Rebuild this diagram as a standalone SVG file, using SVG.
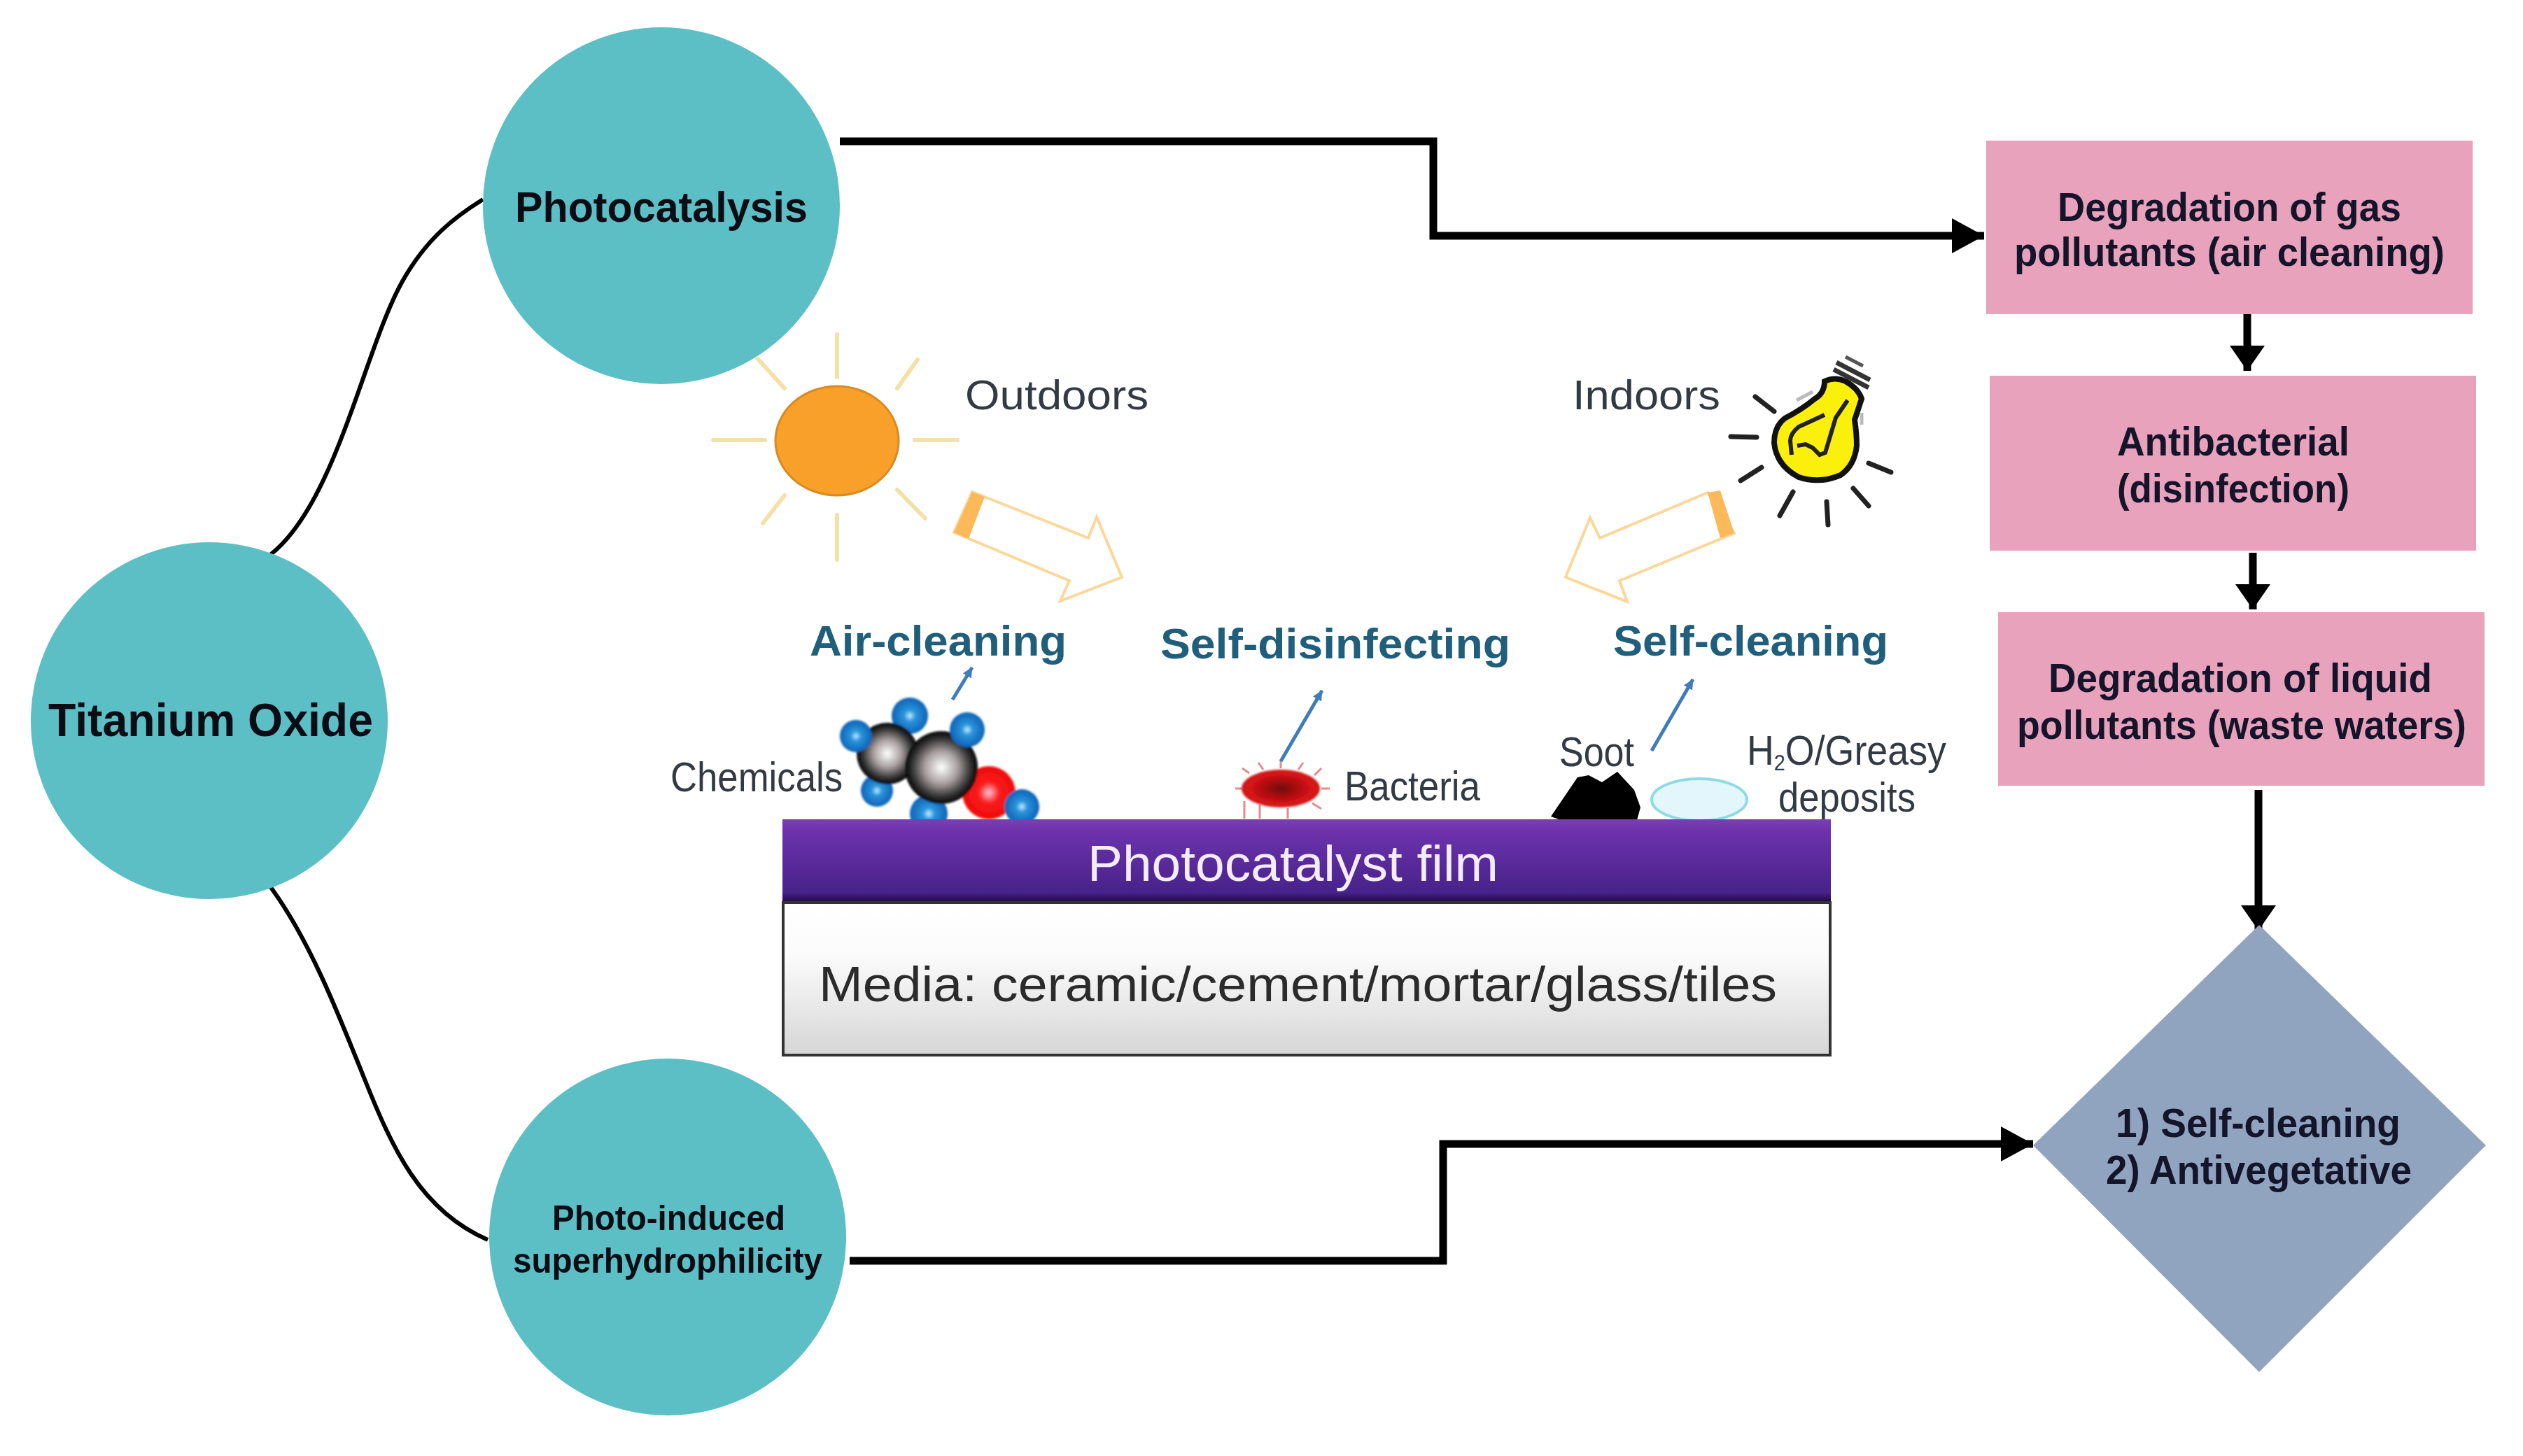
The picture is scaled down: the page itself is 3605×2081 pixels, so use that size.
<svg xmlns="http://www.w3.org/2000/svg" width="3605" height="2081" viewBox="0 0 3605 2081">
<style>
text{font-family:"Liberation Sans",Arial,sans-serif}
.b{font-weight:700;fill:#14142a;font-size:58px}
.c{font-weight:700;fill:#0c0c14}
.l{fill:#333a44;font-size:60px}
.t{font-weight:700;fill:#1f5f7c;font-size:62px}
.ray{stroke:#f4e1a8;stroke-width:6;fill:none;stroke-linecap:round}
.bray{stroke:#222;stroke-width:7;fill:none;stroke-linecap:round}
.conn{fill:none;stroke:#000;stroke-width:11}
.curve{fill:none;stroke:#000;stroke-width:6}
.node{fill:#5cbfc5}
.pink{fill:#e8a2bb}
.thin{stroke:#3f7cb8;stroke-width:5;fill:none}
.hollow{fill:#fff;stroke:#fbd79a;stroke-width:4;stroke-linejoin:miter}
.band{fill:#fbb95a}
</style>
<defs>
<marker id="ah" markerUnits="userSpaceOnUse" markerWidth="50" markerHeight="52" refX="46" refY="25" orient="auto"><path d="M0 0L46 25L0 50z" fill="#000"/></marker>
<marker id="av" markerUnits="userSpaceOnUse" markerWidth="40" markerHeight="52" refX="36" refY="25" orient="auto"><path d="M0 0L36 25L0 50z" fill="#000"/></marker>
<marker id="tip" markerUnits="userSpaceOnUse" markerWidth="18" markerHeight="18" refX="14" refY="7" orient="auto"><path d="M0 0L15 7L0 14z" fill="#3f7cb8"/></marker>
<linearGradient id="film" x1="0" y1="0" x2="0" y2="1"><stop offset="0" stop-color="#7a3fb4"/><stop offset=".15" stop-color="#6c32ac"/><stop offset=".88" stop-color="#47228a"/><stop offset="1" stop-color="#20083e"/></linearGradient>
<linearGradient id="media" x1="0" y1="0" x2="0" y2="1"><stop offset="0" stop-color="#fff"/><stop offset=".35" stop-color="#fbfbfb"/><stop offset="1" stop-color="#d6d6d6"/></linearGradient>
<radialGradient id="blue" cx=".5" cy=".5" r=".52"><stop offset="0" stop-color="#c4ecff"/><stop offset=".3" stop-color="#2b95dc"/><stop offset="1" stop-color="#0b5fb4"/></radialGradient>
<radialGradient id="grey" cx=".5" cy=".5" r=".5"><stop offset="0" stop-color="#fff"/><stop offset=".45" stop-color="#a89f9f"/><stop offset=".8" stop-color="#333"/><stop offset="1" stop-color="#060606"/></radialGradient>
<radialGradient id="red" cx=".5" cy=".5" r=".5"><stop offset="0" stop-color="#ffc4d4"/><stop offset=".4" stop-color="#fa1c1c"/><stop offset="1" stop-color="#ee0a0a"/></radialGradient>
<radialGradient id="bac" cx=".5" cy=".5" r=".5"><stop offset="0" stop-color="#6e0a10"/><stop offset=".4" stop-color="#a80c10"/><stop offset=".85" stop-color="#dc1414"/><stop offset="1" stop-color="#c81c18"/></radialGradient>
<filter id="soft" x="-10%" y="-10%" width="120%" height="120%"><feGaussianBlur stdDeviation="1.5"/></filter>
</defs>

<g id="connectors">
<path class="curve" d="M386 793C480 720 520 500 575 402C610 340 650 310 690 285"/>
<path class="curve" d="M386 1267C440 1340 480 1440 520 1540C560 1640 600 1730 697 1772"/>
<path class="conn" d="M1200 202H2048V337H2835" marker-end="url(#ah)"/>
<path class="conn" d="M1214 1802H2062V1635H2905" marker-end="url(#ah)"/>
<path class="conn" d="M3227 1129V1330" marker-end="url(#av)"/>
<path class="conn" d="M3211 449V530" marker-end="url(#av)"/>
<path class="conn" d="M3219 790V871" marker-end="url(#av)"/>
</g>

<g id="titanium-oxide"><circle class="node" cx="299" cy="1030" r="255"/><text class="c" x="69" y="1052" font-size="66" textLength="464" lengthAdjust="spacingAndGlyphs">Titanium Oxide</text></g>
<g id="photocatalysis"><circle class="node" cx="945" cy="294" r="255"/><text class="c" x="736" y="317" font-size="62" textLength="418" lengthAdjust="spacingAndGlyphs">Photocatalysis</text></g>
<g id="superhydrophilicity"><circle class="node" cx="954" cy="1768" r="255"/><text class="c" x="789" y="1758" font-size="50" textLength="333" lengthAdjust="spacingAndGlyphs">Photo-induced</text><text class="c" x="733" y="1819" font-size="50" textLength="442" lengthAdjust="spacingAndGlyphs">superhydrophilicity</text></g>

<g id="gas-pollutants"><rect class="pink" x="2838" y="201" width="695" height="248"/><text class="b" x="2940" y="316" textLength="491" lengthAdjust="spacingAndGlyphs">Degradation of gas</text><text class="b" x="2878" y="380" textLength="615" lengthAdjust="spacingAndGlyphs">pollutants (air cleaning)</text></g>
<g id="antibacterial"><rect class="pink" x="2843" y="537" width="695" height="250"/><text class="b" x="3025" y="651" textLength="332" lengthAdjust="spacingAndGlyphs">Antibacterial</text><text class="b" x="3025" y="718" textLength="332" lengthAdjust="spacingAndGlyphs">(disinfection)</text></g>
<g id="liquid-pollutants"><rect class="pink" x="2855" y="875" width="695" height="248"/><text class="b" x="2927" y="989" textLength="548" lengthAdjust="spacingAndGlyphs">Degradation of liquid</text><text class="b" x="2882" y="1056" textLength="642" lengthAdjust="spacingAndGlyphs">pollutants (waste waters)</text></g>
<g id="outcome"><path fill="#90a4c0" d="M3228 1322L3552 1637L3228 1961L2905 1637z"/><text class="b" x="3023" y="1625" textLength="407" lengthAdjust="spacingAndGlyphs">1) Self-cleaning</text><text class="b" x="3009" y="1692" textLength="437" lengthAdjust="spacingAndGlyphs">2) Antivegetative</text></g>

<g id="sun">
<ellipse cx="1196" cy="630" rx="88" ry="78" fill="#f9a02a" stroke="#d98a20" stroke-width="3"/>
<path class="ray" d="M1196 478V539M1311 514L1282 555M1307 629H1368M1282 700L1322 741M1196 736V800M1121 708L1090 748M1019 629H1093M1082 512L1121 555"/>
<text class="l" x="1379" y="585" textLength="262" lengthAdjust="spacingAndGlyphs">Outdoors</text>
</g>
<g id="outdoor-arrow">
<path class="hollow" d="M1389 703L1555 769L1567 739L1603 825L1515 859L1528 830L1363 761z"/>
<path class="band" d="M1389 703L1407 710L1384 770L1363 761z"/>
</g>
<g id="bulb">
<path d="M2620 528L2670 554M2624 518L2672 543" stroke="#333" stroke-width="7" fill="none"/>
<path d="M2637 510L2662 523" stroke="#555" stroke-width="5" fill="none"/>
<path d="M2567 572L2590 560M2660 590V607" stroke="#bbb" stroke-width="5" fill="none"/>
<path d="M2607 545Q2622 538 2637 545Q2655 555 2660 570Q2655 585 2650 600Q2653 620 2653 637Q2650 665 2630 679Q2600 692 2570 682Q2538 665 2535 633Q2535 610 2550 598Q2575 585 2593 570Q2607 562 2607 545z" fill="#fbf00c" stroke="#111" stroke-width="8"/>
<path d="M2640 572L2623 597L2608 647L2600 650L2590 640L2580 635L2568 637M2607 593L2570 610Q2558 620 2558 630L2560 650" fill="none" stroke="#222" stroke-width="6"/>
<path class="bray" d="M2508 567L2535 588M2473 624L2510 625M2487 687L2517 668M2543 737L2562 703M2610 717L2612 750M2648 698L2670 723M2670 662L2702 675"/>
<text class="l" x="2247" y="585" textLength="211" lengthAdjust="spacingAndGlyphs">Indoors</text>
</g>
<g id="indoor-arrow">
<path class="hollow" d="M2440 704L2286 769L2272 740L2237 825L2325 860L2314 830L2478 762z"/>
<path class="band" d="M2440 704L2458 701L2478 762L2458 769z"/>
</g>

<g id="molecule">
<g filter="url(#soft)">
<circle cx="1300" cy="1023" r="26" fill="url(#blue)"/><circle cx="1253" cy="1130" r="23" fill="url(#blue)"/><circle cx="1327" cy="1163" r="27" fill="url(#blue)"/>
<circle cx="1413" cy="1133" r="38" fill="url(#red)"/>
<circle cx="1268" cy="1077" r="44" fill="url(#grey)"/><circle cx="1345" cy="1097" r="52" fill="url(#grey)"/>
<circle cx="1223" cy="1052" r="23" fill="url(#blue)"/><circle cx="1382" cy="1043" r="25" fill="url(#blue)"/><circle cx="1460" cy="1153" r="25" fill="url(#blue)"/>
</g>
<text class="l" x="958" y="1131" textLength="246" lengthAdjust="spacingAndGlyphs" font-size="56">Chemicals</text>
</g>
<g id="bacteria">
<path d="M1775 1127H1765M1785 1105L1775 1098M1805 1100L1798 1090M1830 1098V1086M1855 1100L1862 1090M1878 1108L1888 1098M1888 1127H1900M1875 1148L1888 1156M1778 1145V1170M1800 1150V1170M1840 1155V1170" stroke="#e88a88" stroke-width="3" fill="none"/>
<ellipse cx="1830" cy="1127" rx="56" ry="27" fill="url(#bac)" filter="url(#soft)"/>
<text class="l" x="1921" y="1144" textLength="194" lengthAdjust="spacingAndGlyphs" font-size="54">Bacteria</text>
</g>
<g id="soot">
<path d="M2216 1167L2254 1111L2270 1108L2289 1118L2311 1103L2335 1129L2344 1154L2339 1172H2230z" fill="#000"/>
<text class="l" x="2228" y="1095" textLength="107" lengthAdjust="spacingAndGlyphs" font-size="54">Soot</text>
</g>
<g id="drop">
<ellipse cx="2428" cy="1143" rx="68" ry="30" fill="#e2f6fb" stroke="#8fdbe2" stroke-width="4"/>
<text class="l" x="2496" y="1093" font-size="50" textLength="285" lengthAdjust="spacingAndGlyphs">H<tspan font-size="32" dy="8">2</tspan><tspan dy="-8">O/Greasy</tspan></text>
<text class="l" x="2541" y="1160" textLength="196" lengthAdjust="spacingAndGlyphs" font-size="48">deposits</text>
</g>
<g id="effects">
<text class="t" x="1157" y="937" textLength="367" lengthAdjust="spacingAndGlyphs">Air-cleaning</text>
<text class="t" x="1658" y="941" textLength="500" lengthAdjust="spacingAndGlyphs">Self-disinfecting</text>
<text class="t" x="2305" y="937" textLength="393" lengthAdjust="spacingAndGlyphs">Self-cleaning</text>
<path class="thin" d="M1361 1000L1389 954" marker-end="url(#tip)"/>
<path class="thin" d="M1830 1088L1889 987" marker-end="url(#tip)"/>
<path class="thin" d="M2360 1073L2419 971" marker-end="url(#tip)"/>
</g>
<g id="film-layer">
<rect x="1118" y="1171" width="1498" height="119" fill="url(#film)"/>
<text x="1554" y="1259" font-size="72" fill="#f4ecfa" textLength="587" lengthAdjust="spacingAndGlyphs">Photocatalyst film</text>
</g>
<g id="media-layer">
<rect x="1119" y="1290" width="1496" height="218" fill="url(#media)" stroke="#333" stroke-width="4"/>
<text x="1170" y="1431" font-size="70" fill="#2b2b2b" textLength="1369" lengthAdjust="spacingAndGlyphs">Media: ceramic/cement/mortar/glass/tiles</text>
</g>
</svg>
